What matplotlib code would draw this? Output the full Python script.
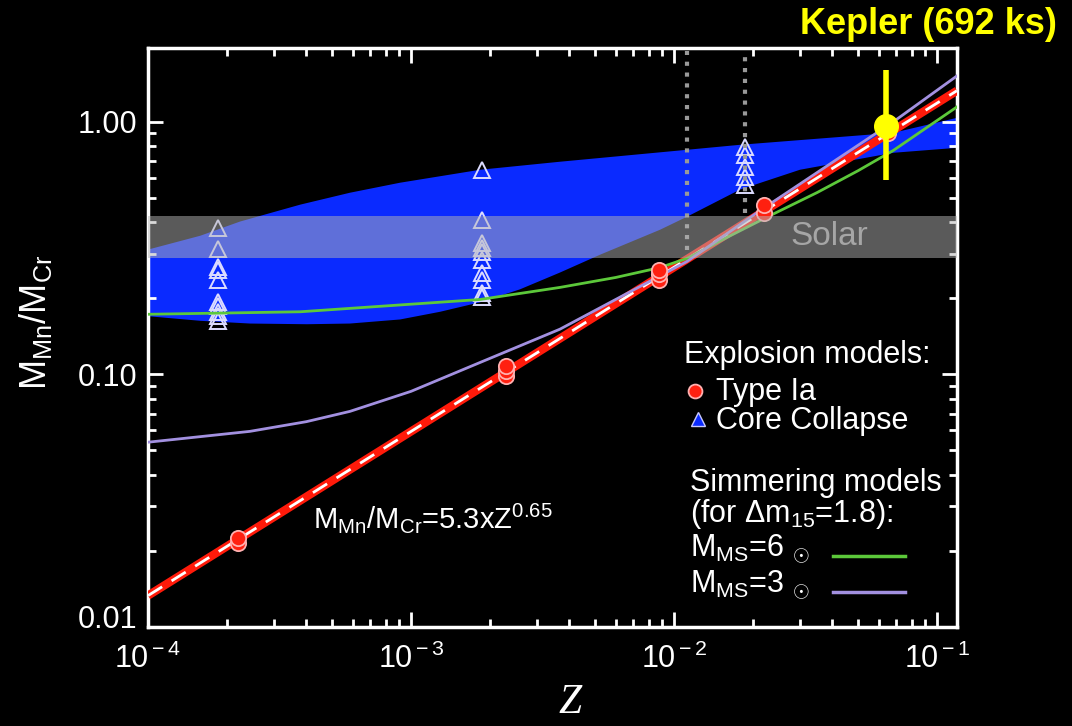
import numpy as np
import matplotlib
matplotlib.use("Agg")
import matplotlib.pyplot as plt
from matplotlib.ticker import LogLocator, FixedLocator, NullFormatter
from matplotlib.transforms import ScaledTranslation

plt.rcParams["font.family"] = ["Liberation Sans", "DejaVu Sans"]
plt.rcParams["mathtext.fontset"] = "custom"
plt.rcParams["mathtext.rm"] = "Liberation Sans"
plt.rcParams["mathtext.it"] = "Liberation Sans:italic"
plt.rcParams["mathtext.bf"] = "Liberation Sans:bold"

# ---- data -------------------------------------------------------------
# Core-collapse yield envelope (upper / lower edge)
cc_up_z = [1.0e-4, 1.58e-4, 2.24e-4, 3.79e-4, 5.86e-4, 9.08e-4, 1.83e-3,
           3.68e-3, 1.12e-2, 1.78e-2, 6.81e-2, 0.119]
cc_up_v = [0.312, 0.354, 0.403, 0.470, 0.524, 0.574, 0.646,
           0.695, 0.775, 0.811, 0.905, 1.037]
cc_lo_z = [1.0e-4, 1.58e-4, 2.44e-4, 4.02e-4, 5.86e-4, 9.08e-4, 1.29e-3,
           1.83e-3, 2.59e-3, 3.68e-3, 5.24e-3, 8.85e-3, 1.12e-2, 1.78e-2,
           3.01e-2, 6.81e-2, 0.119]
cc_lo_v = [0.170, 0.163, 0.159, 0.158, 0.159, 0.165, 0.177,
           0.193, 0.217, 0.253, 0.298, 0.374, 0.421, 0.539,
           0.646, 0.754, 0.789]

# Core-collapse explosion models
cc_z = [1.85e-4] * 10 + [1.86e-3] * 10 + [1.86e-2] * 5
cc_v = [0.381, 0.315, 0.267, 0.260, 0.237, 0.194, 0.186, 0.177, 0.170, 0.162,
        0.646, 0.410, 0.332, 0.318, 0.304, 0.285, 0.253, 0.237, 0.211, 0.202,
        0.796, 0.741, 0.664, 0.606, 0.564]

# Type Ia explosion models
ia_z = [2.2e-4, 2.2e-4, 2.3e-3, 2.3e-3, 2.3e-3, 8.8e-3, 8.8e-3, 8.8e-3,
        2.2e-2, 2.2e-2, 6.5e-2]
ia_v = [0.0215, 0.0225, 0.099, 0.103, 0.108, 0.237, 0.249, 0.260,
        0.436, 0.470, 0.905]

# Simmering models
ms6_z = [1.0e-4, 3.79e-4, 1.83e-3, 3.68e-3, 6.0e-3, 8.85e-3, 1.12e-2,
         1.6e-2, 2.26e-2, 3.5e-2, 5.0e-2, 6.81e-2, 0.119]
ms6_v = [0.173, 0.177, 0.198, 0.221, 0.242, 0.265, 0.288,
         0.350, 0.420, 0.525, 0.640, 0.770, 1.146]
ms3_z = [1.0e-4, 2.44e-4, 4.0e-4, 5.86e-4, 1.0e-3, 1.83e-3, 3.68e-3,
         1.12e-2, 2.12e-2, 6.81e-2, 0.119]
ms3_v = [0.0539, 0.0595, 0.0650, 0.0714, 0.0857, 0.1115, 0.151,
         0.280, 0.445, 1.0, 1.52]

# Power-law fit M_Mn/M_Cr = 5.3 Z^0.65
fit_norm, fit_index = 5.3, 0.65

# Solar ratio band
solar_lo, solar_hi = 0.290, 0.425

# Metallicity range markers
range_z = [0.0112, 0.0186]
range_v = [0.312, 0.437]

# Kepler measurement
kep_z, kep_v = 0.064, 0.964
kep_lo, kep_hi = 0.59, 1.60

xticks = [1e-4, 1e-3, 1e-2, 1e-1]
xticklabels = [r"10$^{\rm -4}$", r"10$^{\rm -3}$", r"10$^{\rm -2}$", r"10$^{\rm -1}$"]
yticks = [0.01, 0.1, 1.0]
yticklabels = ["0.01", "0.10", "1.00"]

# ---- figure -----------------------------------------------------------
W, H = 1072, 726
fig = plt.figure(figsize=(W / 100, H / 100), dpi=100, facecolor="black")
ax = fig.add_axes([148 / W, 1 - 627 / H, (957 - 148) / W, (627 - 48) / H])
ax.set_facecolor("black")
ax.set_xscale("log")
ax.set_yscale("log")
ax.set_xlim(1e-4, 0.119)
ax.set_ylim(0.01, 1.96)

blue = "#0a2aff"
# envelope polygon
poly_z = list(cc_up_z) + list(cc_lo_z[::-1])
poly_v = list(cc_up_v) + list(cc_lo_v[::-1])
ax.fill(poly_z, poly_v, color=blue, lw=0, zorder=1)

ax.plot(cc_z, cc_v, ls="none", marker="^", ms=12, mfc="none",
        mec="#dcdcff", mew=1.4, zorder=2)

zz = np.logspace(-4, np.log10(0.119), 200)
ax.plot(zz, fit_norm * zz ** fit_index, color="#ff1a0a", lw=6,
        solid_capstyle="butt", zorder=3)
ax.plot(zz, fit_norm * zz ** fit_index, color="white", lw=2,
        dashes=(6, 4), zorder=4)

ax.plot(ms6_z, ms6_v, color="#5cc83a", lw=2, zorder=4)
ax.plot(ms3_z, ms3_v, color="#a290e0", lw=2, zorder=4)

ax.plot(ia_z, ia_v, ls="none", marker="o", ms=11, mfc="#ff2010",
        mec="#ffb0b0", mew=1.3, zorder=5)

for z, v in zip(range_z, range_v):
    ax.plot([z, z], [v, 1.9], color="#999999", lw=3, ls=(0, (1, 1.6)),
            zorder=5)

ax.axhspan(solar_lo, solar_hi, color="#b4b4b4", alpha=0.5, lw=0, zorder=6)
ax.text(0.0276, np.sqrt(solar_lo * solar_hi), "Solar", color="#a6a6a6",
        fontsize=24, va="center", ha="left", zorder=7)

ax.errorbar([kep_z], [kep_v], yerr=[[kep_v - kep_lo], [kep_hi - kep_v]],
            fmt="o", color="#ffff00", ms=17, elinewidth=4, capsize=0, zorder=8)

# ---- axes styling -----------------------------------------------------
for s in ax.spines.values():
    s.set_color("white")
    s.set_linewidth(2.5)
ax.xaxis.set_major_locator(FixedLocator(xticks))
ax.set_xticklabels(xticklabels)
ax.yaxis.set_major_locator(FixedLocator(yticks))
ax.set_yticklabels(yticklabels)
ax.xaxis.set_minor_locator(LogLocator(base=10, subs=np.arange(2, 10)))
ax.yaxis.set_minor_locator(LogLocator(base=10, subs=np.arange(2, 10)))
ax.xaxis.set_minor_formatter(NullFormatter())
ax.yaxis.set_minor_formatter(NullFormatter())
ax.tick_params(which="both", direction="in", colors="white",
               top=True, right=True, width=2)
ax.tick_params(which="major", length=11, labelsize=22)
ax.tick_params(axis="x", which="major", pad=12)
ax.tick_params(axis="y", which="major", pad=8)
ax.tick_params(which="minor", length=6)
# lift the bottom y label clear of the x axis
low_lab = ax.get_yticklabels()[0]
low_lab.set_transform(low_lab.get_transform()
                      + ScaledTranslation(0, 10 / 100, fig.dpi_scale_trans))

fig.text(35 / W, 1 - 322 / H, r"M$_{\rm Mn}$/M$_{\rm Cr}$", color="white",
         fontsize=26, rotation=90, ha="center", va="center")
fig.text(570 / W, 1 - 703 / H, "Z", color="white", fontsize=30,
         family="Liberation Serif", style="italic", ha="center", va="center")

# ---- annotations ------------------------------------------------------
fs = 22
def ftext(x, y, s, **kw):
    kw.setdefault("color", "white")
    kw.setdefault("fontsize", fs)
    kw.setdefault("va", "center")
    return fig.text(x / W, 1 - y / H, s, **kw)

ftext(684, 355, "Explosion models:")
fig.lines.append(plt.Line2D([695 / W], [1 - 391 / H], ls="none", marker="o",
                            ms=10, mfc="#ff2010", mec="#ffb0b0", mew=1.3,
                            transform=fig.transFigure))
ftext(716, 392, "Type Ia")
fig.lines.append(plt.Line2D([698 / W], [1 - 419 / H], ls="none", marker="^",
                            ms=10, mfc=blue, mec="#c8c8ff", mew=1.0,
                            transform=fig.transFigure))
ftext(716, 421, "Core Collapse")
ftext(690, 483, "Simmering models")
ftext(690, 514, r"(for $\Delta$m$_{\rm 15}$=1.8):")
ftext(690, 549, r"M$_{\rm MS}$=6 $_{\odot}$")
ftext(690, 585, r"M$_{\rm MS}$=3 $_{\odot}$")
fig.lines.append(plt.Line2D([833 / W, 905 / W], [1 - 556 / H] * 2,
                            color="#5cc83a", lw=2.5, transform=fig.transFigure))
fig.lines.append(plt.Line2D([833 / W, 905 / W], [1 - 592 / H] * 2,
                            color="#a290e0", lw=2.5, transform=fig.transFigure))

ftext(313, 518, r"M$_{\rm Mn}$/M$_{\rm Cr}$=5.3xZ$^{\rm 0.65}$", fontsize=21)

ftext(1057, 24, "Kepler (692 ks)", color="#ffff00", fontsize=26,
      fontweight="bold", ha="right")

fig.savefig("out.png", dpi=100, facecolor="black")
